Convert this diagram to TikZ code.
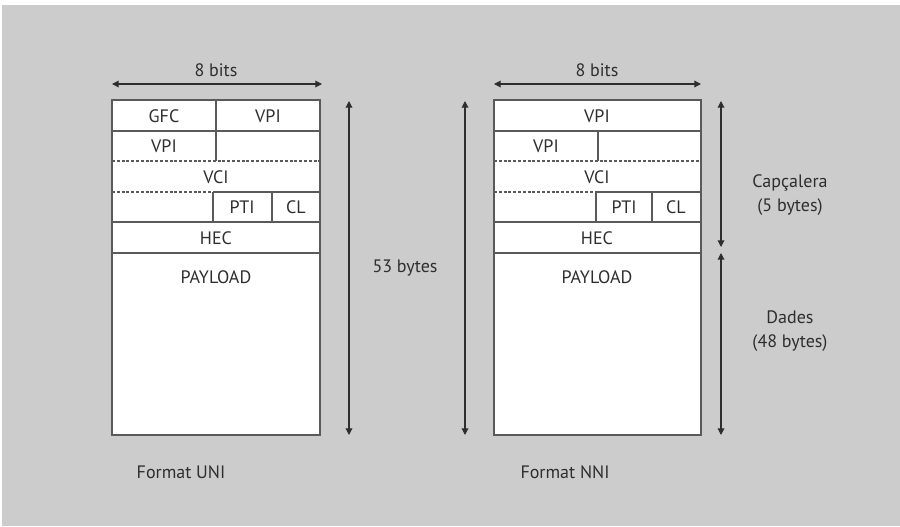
\documentclass[tikz,border=0pt]{standalone}
\usepackage{fontspec}
\setmainfont{PT Sans}
\usetikzlibrary{arrows.meta}
\definecolor{fonsgris}{HTML}{CCCCCC}
\definecolor{vora}{HTML}{5A5A5A}
\definecolor{tinta}{HTML}{2E2E2E}
\tikzset{
  cella/.style={draw=vora, line width=1.1pt, fill=white},
  divisio/.style={vora, line width=1.1pt},
  puntejat/.style={vora, line width=1pt, dash pattern=on 2.2pt off 1.4pt},
  cota/.style={tinta, line width=0.9pt, {Triangle[length=5pt,width=5pt]}-{Triangle[length=5pt,width=5pt]}},
  etiq/.style={text=tinta, font=\fontsize{13.5}{18.5}\selectfont, inner sep=0pt},
}
\begin{document}
\begin{tikzpicture}[x=0.75pt, y=-0.75pt]
  \useasboundingbox (0,0) rectangle (900,526);
  \fill[white] (0,0) rectangle (900,526);
  \fill[fonsgris] (2,5) rectangle (900,526);
  % format UNI
  \draw[cella] (112,100) rectangle (320,435);
  \draw[divisio] (112,131) -- (320,131);
  \draw[divisio] (216,100) -- (216,161);
  \draw[puntejat] (112,161) -- (320,161);
  \draw[puntejat] (112,192) -- (213,192);
  \draw[divisio] (213,192) -- (320,192);
  \draw[divisio] (213,192) -- (213,222);
  \draw[divisio] (272,192) -- (272,222);
  \draw[divisio] (112,222) -- (320,222);
  \draw[divisio] (112,253) -- (320,253);
  \node[etiq] (uGFC) at (164,116) {GFC};
  \node[etiq] (uVPIa) at (268,116) {VPI};
  \node[etiq] (uVPIb) at (164,146) {VPI};
  \node[etiq] (uVCI) at (216,177) {VCI};
  \node[etiq] (uPTI) at (242,207) {PTI};
  \node[etiq] (uCL) at (296,207) {CL};
  \node[etiq] (uHEC) at (216,238) {HEC};
  \node[etiq] (uPAY) at (216,277) {PAYLOAD};
  % format NNI
  \draw[cella] (494,100) rectangle (701,435);
  \draw[divisio] (494,131) -- (701,131);
  \draw[divisio] (598,131) -- (598,161);
  \draw[puntejat] (494,161) -- (701,161);
  \draw[puntejat] (494,192) -- (596,192);
  \draw[divisio] (596,192) -- (701,192);
  \draw[divisio] (596,192) -- (596,222);
  \draw[divisio] (652,192) -- (652,222);
  \draw[divisio] (494,222) -- (701,222);
  \draw[divisio] (494,253) -- (701,253);
  \node[etiq] (nVPIa) at (597,116) {VPI};
  \node[etiq] (nVPIb) at (546,146) {VPI};
  \node[etiq] (nVCI) at (597,177) {VCI};
  \node[etiq] (nPTI) at (624,207) {PTI};
  \node[etiq] (nCL) at (676,207) {CL};
  \node[etiq] (nHEC) at (597,238) {HEC};
  \node[etiq] (nPAY) at (597,277) {PAYLOAD};
  % cotes
  \coordinate (bitsUa) at (112,84);
  \coordinate (bitsUb) at (322,84);
  \coordinate (bitsNa) at (494,84);
  \coordinate (bitsNb) at (701,84);
  \coordinate (celUa) at (349,101);
  \coordinate (celUb) at (349,435);
  \coordinate (celNa) at (465,101);
  \coordinate (celNb) at (465,435);
  \coordinate (capa) at (721,101);
  \coordinate (capb) at (721,247);
  \coordinate (dada) at (721,253);
  \coordinate (dadb) at (721,435);
  \draw[cota] (bitsUa) -- (bitsUb);
  \draw[cota] (bitsNa) -- (bitsNb);
  \draw[cota] (celUa) -- (celUb);
  \draw[cota] (celNa) -- (celNb);
  \draw[cota] (capa) -- (capb);
  \draw[cota] (dada) -- (dadb);
  \node[etiq] (bitsU) at (216,70) {8 bits};
  \node[etiq] (bitsN) at (597,70) {8 bits};
  \node[etiq] (bytes) at (405,268) {53 bytes};
  \node[etiq, align=center] (capc) at (790,195) {Capçalera\\(5 bytes)};
  \node[etiq, align=center] (dades) at (790,331) {Dades\\(48 bytes)};
  \node[etiq] (uni) at (181,472) {Format UNI};
  \node[etiq] (nni) at (565,472) {Format NNI};
\end{tikzpicture}
\end{document}
